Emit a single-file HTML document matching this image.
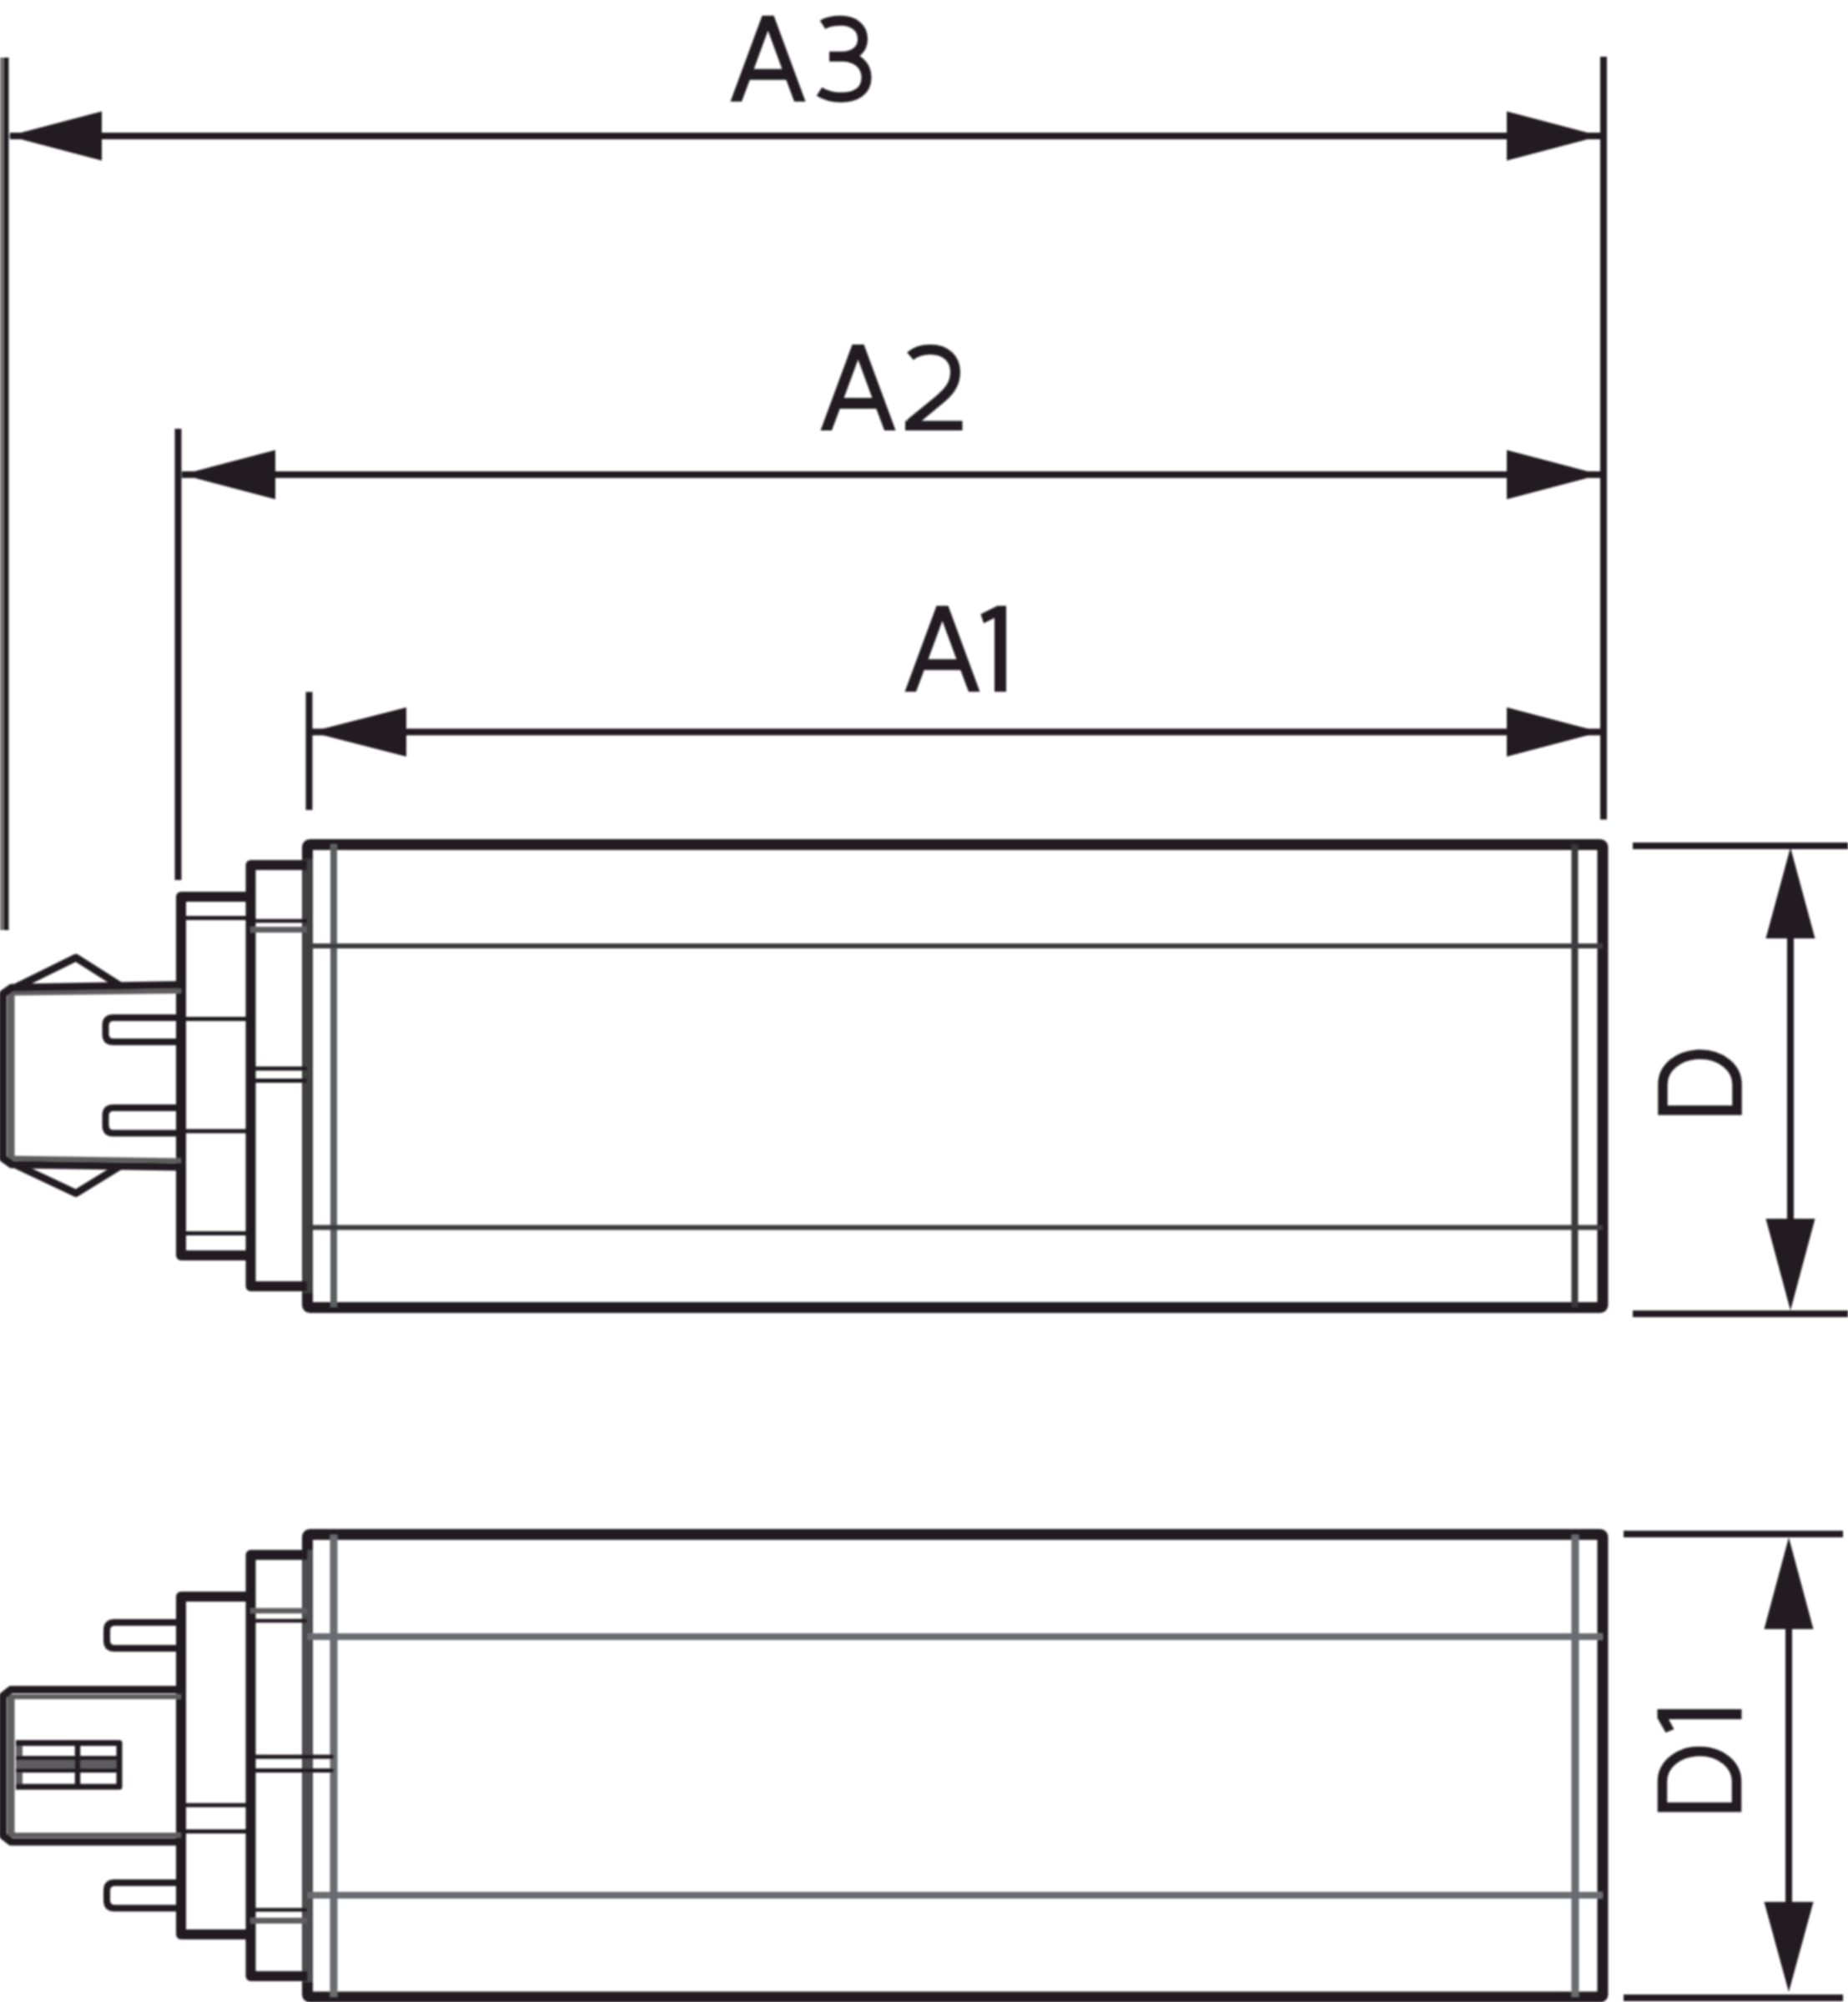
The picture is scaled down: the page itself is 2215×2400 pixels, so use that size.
<!DOCTYPE html>
<html>
<head>
<meta charset="utf-8">
<style>
html,body{margin:0;padding:0;background:#fff;}
body{width:2215px;height:2400px;overflow:hidden;font-family:"Liberation Sans",sans-serif;}
svg{display:block;}
</style>
</head>
<body>
<svg width="2215" height="2400" viewBox="0 0 2215 2400">
<defs><filter id="bl" x="-1%" y="-1%" width="102%" height="102%"><feGaussianBlur stdDeviation="1.2"/></filter></defs>
<rect x="0" y="0" width="2215" height="2400" fill="#ffffff"/>
<g filter="url(#bl)">
<g stroke="#231f20" fill="none" stroke-width="8">
<rect x="0" y="69" width="4.5" height="1046" fill="#6f6b6b" stroke="none"/>
<line x1="7.5" y1="69" x2="7.5" y2="1115" stroke-width="6"/>
<line x1="1922" y1="68" x2="1922" y2="982.5"/>
<line x1="12" y1="163" x2="1918" y2="163"/>
<line x1="213.5" y1="514" x2="213.5" y2="1055"/>
<line x1="218" y1="569" x2="1918" y2="569"/>
<line x1="370.5" y1="829.5" x2="370.5" y2="971"/>
<line x1="372" y1="877.5" x2="1918" y2="877.5"/>
<line x1="1957" y1="1014" x2="2215" y2="1014"/>
<line x1="1957" y1="1575" x2="2215" y2="1575"/>
<line x1="2146" y1="1060" x2="2146" y2="1530"/>
<line x1="1946" y1="1839" x2="2209" y2="1839"/>
<line x1="1946" y1="2395" x2="2209" y2="2395"/>
<line x1="2144" y1="1900" x2="2144" y2="2330"/>
</g>
<g fill="#231f20" stroke="none">
<polygon points="10,163 122,133.5 122,192.5"/>
<polygon points="1918,163 1806,133.5 1806,192.5"/>
<polygon points="218,569 330,539.5 330,598.5"/>
<polygon points="1918,569 1806,539.5 1806,598.5"/>
<polygon points="372,877.5 487,848.0 487,907.0"/>
<polygon points="1918,877.5 1806,848.0 1806,907.0"/>
<polygon points="2146,1016 2116.5,1125 2175.5,1125"/>
<polygon points="2146,1571 2116.5,1461 2175.5,1461"/>
<polygon points="2144,1843 2114.5,1953 2173.5,1953"/>
<polygon points="2144,2388 2114.5,2280 2173.5,2280"/>
</g>
<g fill="none" stroke="#231f20" stroke-linejoin="round">
<rect x="368.5" y="1012.5" width="1552.5" height="555" rx="3" stroke-width="13"/>
<line x1="368.5" y1="1030" x2="368.5" y2="1550" stroke-width="12" stroke="#3f3f41"/>
<line x1="400" y1="1012" x2="400" y2="1567" stroke-width="8" stroke="#5c5e62"/>
<line x1="1887.5" y1="1012" x2="1887.5" y2="1567" stroke-width="8" stroke="#38383a"/>
<line x1="368" y1="1134" x2="1921" y2="1134" stroke-width="6" stroke="#3d3d3f"/>
<line x1="368" y1="1471.5" x2="1921" y2="1471.5" stroke-width="6" stroke="#3d3d3f"/>
<polyline points="368,1037 300.5,1037 300.5,1542 368,1542" stroke-width="12"/>
<line x1="300" y1="1104" x2="368" y2="1104" stroke-width="4.5"/>
<line x1="300" y1="1114.5" x2="368" y2="1114.5" stroke-width="7" stroke="#5f5d5e"/>
<line x1="300" y1="1281" x2="368" y2="1281" stroke-width="5"/>
<line x1="300" y1="1295.5" x2="368" y2="1295.5" stroke-width="5"/>
<polyline points="300.5,1075 217,1075 217,1505 300.5,1505" stroke-width="12"/>
<line x1="217" y1="1100.5" x2="300" y2="1100.5" stroke-width="5"/>
<line x1="217" y1="1221.5" x2="300" y2="1221.5" stroke-width="5"/>
<line x1="217" y1="1356" x2="300" y2="1356" stroke-width="5"/>
<line x1="217" y1="1478.5" x2="300" y2="1478.5" stroke-width="5"/>
<path d="M217,1220 L136,1220 Q126.5,1220 126.5,1229.5 L126.5,1239.5 Q126.5,1249 136,1249 L217,1249" stroke-width="8"/>
<path d="M217,1328 L136,1328 Q126.5,1328 126.5,1337.5 L126.5,1349 Q126.5,1358.5 136,1358.5 L217,1358.5" stroke-width="8"/>
<line x1="10" y1="1190.5" x2="217" y2="1188" stroke-width="6" stroke="#5f5d5e"/>
<line x1="10" y1="1388.5" x2="217" y2="1391.5" stroke-width="6" stroke="#5f5d5e"/>
<line x1="13" y1="1190" x2="13" y2="1390" stroke-width="9" stroke="#5f5d5e"/>
<path d="M217,1180.5 L14,1184 L3.5,1191.5 L3.5,1388.5 L14,1396 L217,1399" stroke-width="9"/>
<polyline points="20,1183 91,1148 143,1181" stroke-width="9"/>
<polyline points="20,1397 91,1430.5 143,1398.5" stroke-width="9"/>
</g>
<g fill="none" stroke="#231f20" stroke-linejoin="round">
<rect x="368.5" y="1839.5" width="1552.5" height="554.5" rx="3" stroke-width="13"/>
<line x1="368.5" y1="1858" x2="368.5" y2="2376" stroke-width="12" stroke="#4d4e50"/>
<line x1="400" y1="1840" x2="400" y2="2394" stroke-width="9" stroke="#6a6c70"/>
<line x1="1888" y1="1840" x2="1888" y2="2394" stroke-width="9" stroke="#6a6c70"/>
<line x1="368.5" y1="1962" x2="1921" y2="1962" stroke-width="8" stroke="#6a6c72"/>
<line x1="368.5" y1="2272" x2="1921" y2="2272" stroke-width="8" stroke="#6a6c72"/>
<polyline points="368.5,1864 300.5,1864 300.5,2369 368.5,2369" stroke-width="12"/>
<line x1="300" y1="1931" x2="368" y2="1931" stroke-width="6.5" stroke="#5f5d5e"/>
<line x1="300" y1="1943" x2="368" y2="1943" stroke-width="4.5"/>
<line x1="300" y1="2106" x2="400" y2="2106" stroke-width="5"/>
<line x1="300" y1="2122.5" x2="400" y2="2122.5" stroke-width="5"/>
<line x1="300" y1="2289.5" x2="368" y2="2289.5" stroke-width="4.5"/>
<line x1="300" y1="2302.5" x2="368" y2="2302.5" stroke-width="7" stroke="#5f5d5e"/>
<polyline points="300.5,1914 217,1914 217,2319 300.5,2319" stroke-width="12"/>
<line x1="217" y1="2164" x2="300" y2="2164" stroke-width="5"/>
<line x1="217" y1="2195.5" x2="300" y2="2195.5" stroke-width="5"/>
<path d="M217,1945 L137.5,1945 Q128,1945 128,1954.5 L128,1966.5 Q128,1976 137.5,1976 L217,1976" stroke-width="8"/>
<path d="M217,2257 L137.5,2257 Q128,2257 128,2266.5 L128,2278 Q128,2287.5 137.5,2287.5 L217,2287.5" stroke-width="8"/>
<line x1="10" y1="2034" x2="217" y2="2034" stroke-width="6" stroke="#5f5d5e"/>
<line x1="10" y1="2200" x2="217" y2="2200" stroke-width="6" stroke="#5f5d5e"/>
<line x1="13" y1="2032" x2="13" y2="2201" stroke-width="9" stroke="#5f5d5e"/>
<path d="M217,2025.5 L13,2025.5 L3.5,2033 L3.5,2200.5 L13,2208 L217,2208" stroke-width="9"/>
<rect x="20" y="2108" width="123" height="14" fill="#5f5d5e" stroke="none"/>
<line x1="23" y1="2089" x2="23" y2="2143" stroke-width="8" stroke="#5f5d5e"/>
<path d="M19,2089.5 L143,2089.5 L143,2142 L19,2142" stroke-width="7"/>
<line x1="19" y1="2107.5" x2="143" y2="2107.5" stroke-width="5"/>
<line x1="19" y1="2122.5" x2="143" y2="2122.5" stroke-width="5"/>
<line x1="93" y1="2089.5" x2="93" y2="2142" stroke-width="6.5"/>
</g>
<g fill="#231f20" stroke="none">
<path transform="translate(875.5,121.8)" d="M0,0 L38,-103 L52,-103 L90,0 L76.5,0 L66.8,-26 L23.2,-26 L13.5,0 Z M28.1,-39 L45,-85 L61.9,-39 Z" fill-rule="evenodd"/>
<path transform="translate(978,121.8)" d="M8,-92 C15,-96.5 23,-97 30,-97 C46,-97 56,-88 56,-75 C56,-63 47,-54 31,-54 L16,-54 M31,-54 C50,-54 60.5,-43 60.5,-29 C60.5,-13 48,-5 30,-5 C20,-5 11,-7.5 4,-12" fill="none" stroke="#231f20" stroke-width="12"/>
<path transform="translate(983.5,516)" d="M0,0 L38,-103 L52,-103 L90,0 L76.5,0 L66.8,-26 L23.2,-26 L13.5,0 Z M28.1,-39 L45,-85 L61.9,-39 Z" fill-rule="evenodd"/>
<g transform="translate(1084,516)"><path d="M7,-89 C14,-95 22,-97 31,-97 C50,-97 61,-85.5 61,-70 C61,-55 53,-46 41,-36 L7,-8" fill="none" stroke="#231f20" stroke-width="12"/><rect x="1" y="-11.5" width="68.5" height="11.5"/></g>
<path transform="translate(1084.5,829.3)" d="M0,0 L38,-103 L52,-103 L90,0 L76.5,0 L66.8,-26 L23.2,-26 L13.5,0 Z M28.1,-39 L45,-85 L61.9,-39 Z" fill-rule="evenodd"/>
<path transform="translate(1175.5,829.3)" d="M30.5,-103 L20,-103 L0,-93 L3.5,-82 L16.5,-88.5 L16.5,0 L30.5,0 Z"/>
<g transform="translate(2088,1337) rotate(-90)"><path d="M6,-6 L6,-95 L37,-95 C57,-95 73,-76 73,-50.5 C73,-25 57,-6 37,-6 Z" fill="none" stroke="#231f20" stroke-width="11.5" stroke-linejoin="miter"/></g>
<g transform="translate(2087.5,2172.5) rotate(-90)"><path d="M6,-6 L6,-95 L37,-95 C57,-95 73,-76 73,-50.5 C73,-25 57,-6 37,-6 Z" fill="none" stroke="#231f20" stroke-width="11.5" stroke-linejoin="miter"/></g>
<g transform="translate(2087.5,2077.5) rotate(-90)"><path d="M28.5,-101 L18,-101 L0.5,-91 L4.5,-81 L16.5,-87.5 L16.5,0 L28.5,0 Z"/></g>
</g>
</g>
</svg>
</body>
</html>
